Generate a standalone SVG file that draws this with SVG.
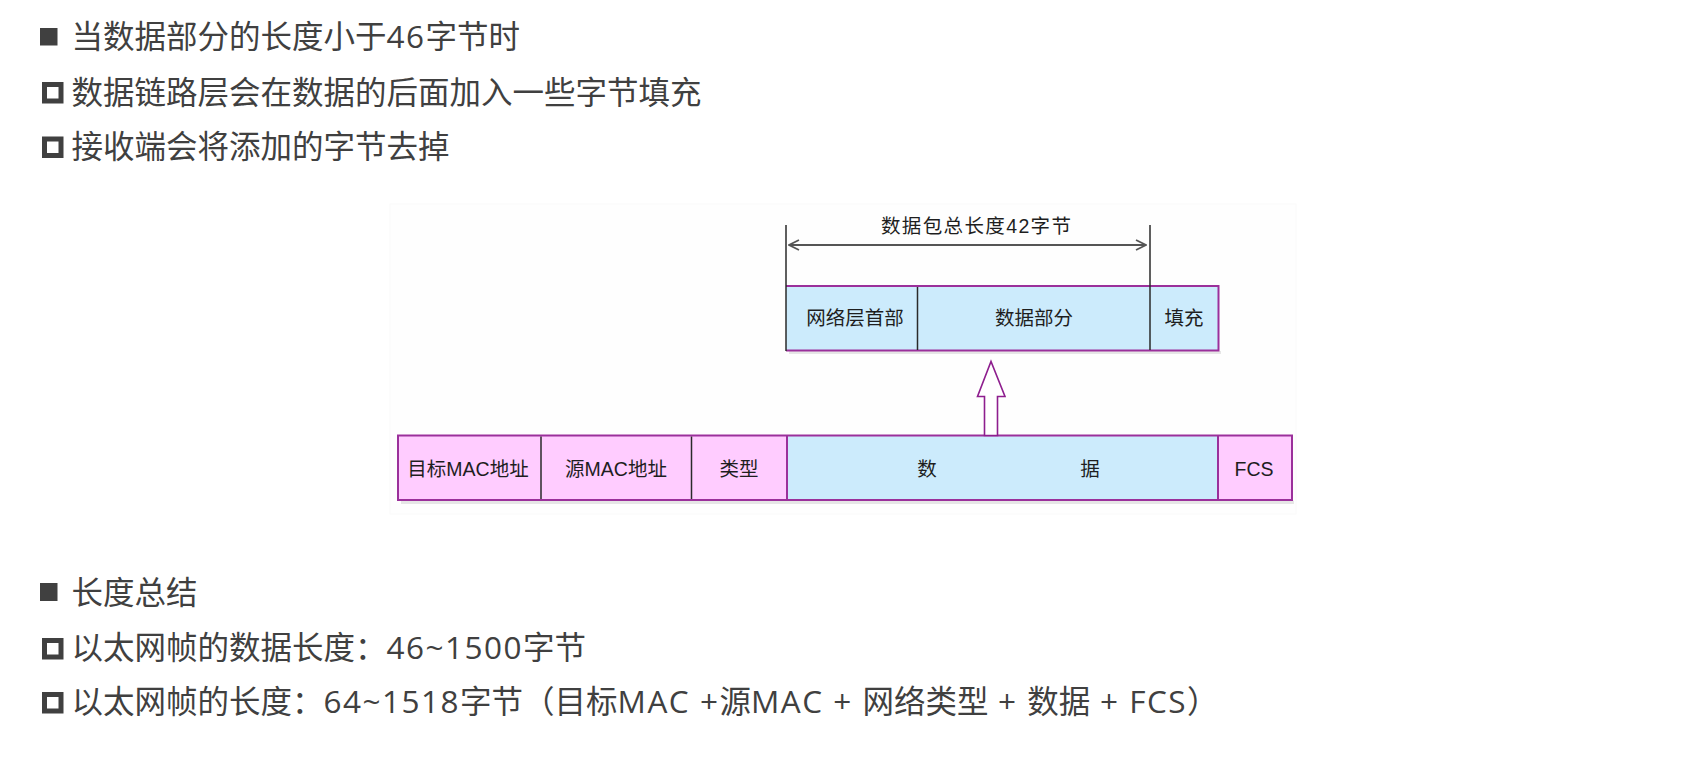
<svg xmlns="http://www.w3.org/2000/svg" width="1681" height="757" viewBox="0 0 1681 757">
  <defs>
    <style>
      .pt { font-family: "Open Sans", "Noto Sans CJK SC", "Microsoft YaHei", sans-serif; font-size: 31.5px; fill: #404040; }
      .l { letter-spacing: 1.5px; }
      .dt { font-family: "Liberation Sans", "Noto Sans CJK SC", sans-serif; font-size: 19.5px; fill: #1e1e1e; text-anchor: middle; }
      .bf { fill: #404040; }
      .bh { fill: none; stroke: #404040; stroke-width: 5; }
      .pink { fill: #FFCCFF; }
      .blue { fill: #CCEBFC; }
      .purp { stroke: #9B309B; stroke-width: 2; fill: none; }
      .dark { stroke: #2a2a2a; stroke-width: 1.5; }
      .shadow { fill: #e6e6e6; }
    </style>
    <marker id="chev" viewBox="0 0 12 12" refX="11" refY="6" markerWidth="12" markerHeight="12" markerUnits="userSpaceOnUse" orient="auto-start-reverse">
      <path d="M1,1 L11,6 L1,11" fill="none" stroke="#555" stroke-width="1.8"/>
    </marker>
  </defs>
  <rect width="1681" height="757" fill="#ffffff"/>

  <!-- upper text -->
  <g id="text-top">
    <rect class="bf" x="40" y="28" width="17.5" height="17.5"/>
    <text class="pt" x="71.5" y="48">当数据部分的长度小于<tspan class="l">46</tspan>字节时</text>
    <rect class="bh" x="44.5" y="84.5" width="16.5" height="16.5"/>
    <text class="pt" x="71.5" y="103.5">数据链路层会在数据的后面加入一些字节填充</text>
    <rect class="bh" x="44.5" y="139" width="16.5" height="16.5"/>
    <text class="pt" x="71.5" y="158">接收端会将添加的字节去掉</text>
  </g>

  <!-- faint image frame -->
  <rect x="390" y="204" width="906" height="310" fill="#fefefe" stroke="#fafafa" stroke-width="1"/>

  <!-- upper box: network-layer packet -->
  <g id="packet">
    <rect class="shadow" x="789" y="351" width="432" height="3"/>
    <rect class="blue" x="786" y="286" width="432.5" height="64.5"/>
    <path class="purp" d="M786,286 H1218.5 V350.5 H786"/>
    <line class="dark" x1="786" y1="225" x2="786" y2="351"/>
    <line class="dark" x1="917.5" y1="287" x2="917.5" y2="350"/>
    <line class="dark" x1="1150" y1="225" x2="1150" y2="350"/>
    <text class="dt" x="855" y="324.5">网络层首部</text>
    <text class="dt" x="1034" y="324.5">数据部分</text>
    <text class="dt" x="1184" y="324.5">填充</text>
  </g>

  <!-- bottom bar: ethernet frame -->
  <g id="frame">
    <rect class="shadow" x="401" y="500.5" width="893" height="3.5"/>
    <rect class="pink" x="398" y="435.5" width="389" height="64.5"/>
    <rect class="blue" x="787" y="435.5" width="431" height="64.5"/>
    <rect class="pink" x="1218" y="435.5" width="74" height="64.5"/>
    <rect class="purp" x="398" y="435.5" width="894" height="64.5"/>
    <line class="dark" x1="541" y1="436.5" x2="541" y2="499"/>
    <line class="dark" x1="691.5" y1="436.5" x2="691.5" y2="499"/>
    <line class="purp" x1="787" y1="436" x2="787" y2="499.5"/>
    <line class="purp" x1="1218" y1="436" x2="1218" y2="499.5"/>
    <text class="dt" x="468" y="475.5">目标MAC地址</text>
    <text class="dt" x="616" y="475.5">源MAC地址</text>
    <text class="dt" x="739" y="475.5">类型</text>
    <text class="dt" x="927" y="475.5">数</text>
    <text class="dt" x="1090" y="475.5">据</text>
    <text class="dt" x="1254" y="475.5">FCS</text>
  </g>

  <!-- connectors -->
  <g id="connectors">
    <line x1="789" y1="245" x2="1146" y2="245" stroke="#555" stroke-width="2" marker-start="url(#chev)" marker-end="url(#chev)"/>
    <polygon points="984.5,435.5 984.5,396.5 977.5,396.5 991,361.5 1005,396.5 997.5,396.5 997.5,435.5" fill="#ffffff" stroke="#8E1E8E" stroke-width="1.6"/>
  </g>

  <g id="length-label">
    <text class="dt" x="976" y="233" font-size="20" textLength="190" lengthAdjust="spacing">数据包总长度42字节</text>
  </g>

  <!-- lower text -->
  <g id="text-bottom">
    <rect class="bf" x="40" y="583" width="17.5" height="18"/>
    <text class="pt" x="71.5" y="604">长度总结</text>
    <rect class="bh" x="44.5" y="640.5" width="16.5" height="16.5"/>
    <text class="pt" x="71.5" y="659">以太网帧的数据长度：<tspan class="l">46~1500</tspan>字节</text>
    <rect class="bh" x="44.5" y="694.5" width="16.5" height="16.5"/>
    <text class="pt" x="71.5" y="713">以太网帧的长度：<tspan class="l">64~1518</tspan>字节（目标<tspan class="l">MAC +</tspan>源<tspan class="l">MAC + </tspan>网络类型<tspan class="l"> + </tspan>数据<tspan class="l"> + FCS</tspan>）</text>
  </g>
</svg>
